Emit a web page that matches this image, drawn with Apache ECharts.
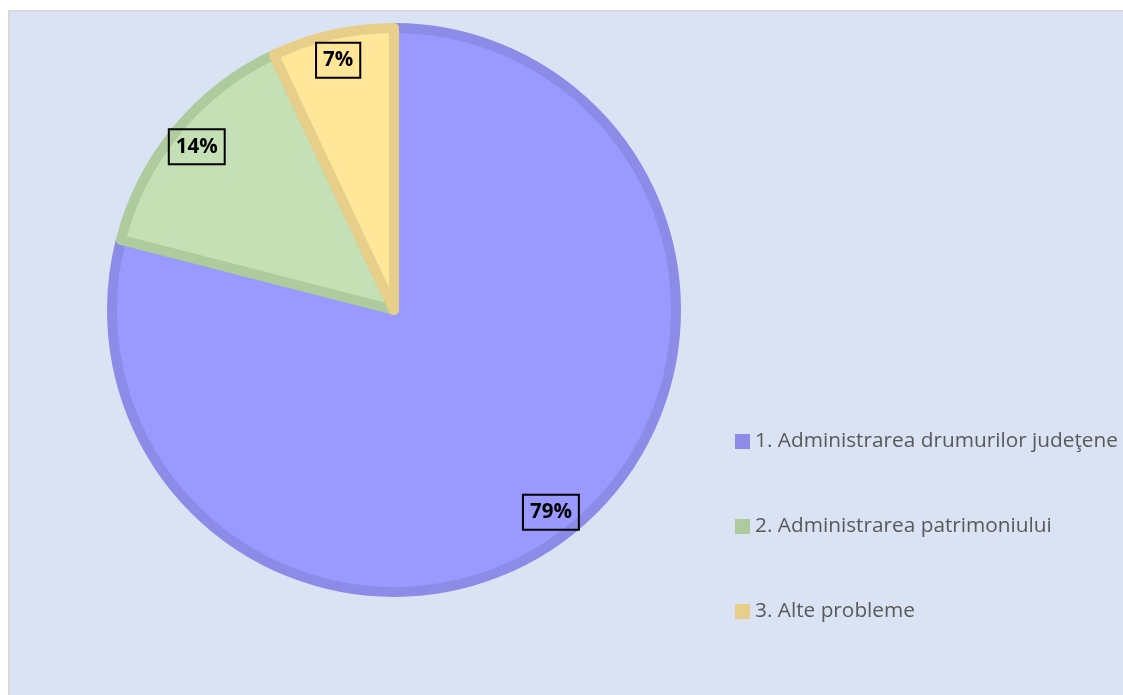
<!DOCTYPE html>
<html>
<head>
<meta charset="utf-8">
<script src="https://cdn.jsdelivr.net/npm/echarts@6/dist/echarts.min.js"></script>
<style>
html,body{margin:0;padding:0;background:#fff;width:1123px;height:695px;overflow:hidden;}
#bg{position:absolute;left:8px;top:10px;width:1115px;height:685px;background:#DAE3F3;border-left:2px solid #d9d9d9;border-top:2px solid #d9d9d9;box-sizing:border-box;}
#chart{position:absolute;left:0;top:0;width:1123px;height:695px;}
</style>
</head>
<body>
<div id="bg"></div>
<div id="chart"></div>
<script>
const categories = ["1. Administrarea drumurilor judeţene", "2. Administrarea patrimoniului", "3. Alte probleme"];
const values = [79, 14, 7];
const fillColors = ["#9999FF", "#C5E0B4", "#FFE699"];
const borderColors = ["#8C8CE8", "#ADCB9D", "#E8CF89"];

const chart = echarts.init(document.getElementById('chart'), null, {renderer: 'canvas'});
const center = [394, 310];
const pieData = categories.map((c, i) => ({
  name: c, value: values[i],
  itemStyle: {color: fillColors[i], borderColor: borderColors[i], borderWidth: 10}
}));
const labelData = categories.map((c, i) => ({
  name: c, value: values[i],
  itemStyle: {color: 'rgba(0,0,0,0)', borderWidth: 0}
}));
chart.setOption({
  animation: false,
  legend: {
    orient: 'vertical',
    left: 730,
    top: 426,
    icon: 'rect',
    itemWidth: 15,
    itemHeight: 15,
    itemGap: 64,
    selectedMode: false,
    data: categories.map((c, i) => ({name: c, itemStyle: {color: borderColors[i], borderWidth: 0}})),
    textStyle: {fontFamily: 'Open Sans', fontSize: 20.8, lineHeight: 20, color: '#595959'}
  },
  series: [
    {
      type: 'pie',
      center: center,
      radius: [0, 282],
      startAngle: 90,
      clockwise: true,
      silent: true,
      label: {show: false},
      labelLine: {show: false},
      data: pieData
    },
    {
      type: 'pie',
      center: center,
      radius: [224, 282],
      startAngle: 90,
      clockwise: true,
      silent: true,
      legendHoverLink: false,
      label: {
        show: true,
        position: 'inside',
        formatter: p => p.value + '%',
        fontFamily: 'Open Sans',
        fontWeight: 'bold',
        fontSize: 20.5,
        lineHeight: 24,
        color: '#000',
        borderColor: '#000',
        borderWidth: 2,
        padding: [6, 7, 5, 7]
      },
      labelLine: {show: false},
      data: labelData
    }
  ]
});
</script>
</body>
</html>
